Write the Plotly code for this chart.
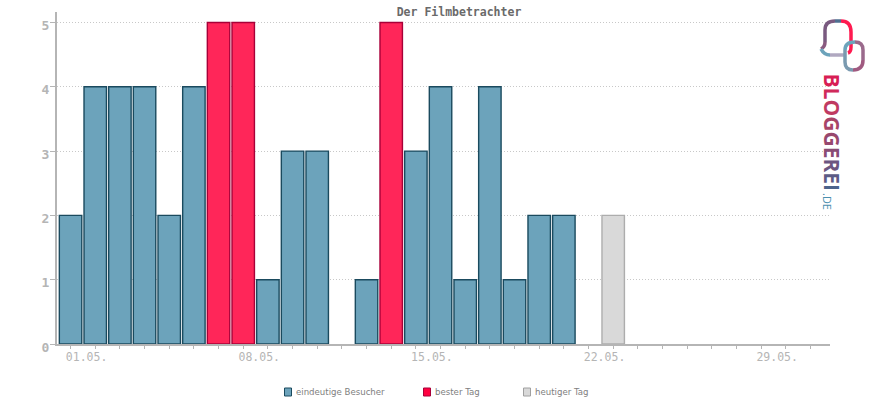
import plotly.graph_objects as go

# Besucher pro Tag im Mai
tage = ["%02d.05." % d for d in range(1, 32)]
besucher = [2, 4, 4, 4, 2, 4, None, None, 1, 3, 3, 0, 1, None, 3, 4, 1, 4, 1, 2, 2, 0, None]
bester_tag = [None, None, None, None, None, None, 5, 5, None, None, None, None, None, 5]
heutiger_tag = [None] * 22 + [2]
y_ticks = [0, 1, 2, 3, 4, 5]
x_label_every = 7

grau = "#b5b5b5"
W, H = 870, 400
links, rechts, oben, unten = 57, 40, 12, 56
font_mono = "DejaVu Sans Mono"


# Pixel im Bild -> paper-Koordinaten (paper = Plotbereich)
def px(x):
    return (x - links) / (W - links - rechts)


def py(y):
    return 1 - (y - oben) / (H - oben - unten)


fig = go.Figure()
fig.add_bar(x=tage[:len(besucher)], y=besucher, name="eindeutige Besucher",
            marker=dict(color="#6ca3bb", line=dict(color="#1a4a5e", width=[1.4 if v else 0 for v in besucher])))
fig.add_bar(x=tage[:len(bester_tag)], y=bester_tag, name="bester Tag",
            marker=dict(color="#ff2659", line=dict(color="#a80038", width=1.4)))
fig.add_bar(x=tage[:len(heutiger_tag)], y=heutiger_tag, name="heutiger Tag",
            marker=dict(color="#d9d9d9", line=dict(color="#adadad", width=1.4)))

# Legende von Hand, weil die Plotly-Legende die Abstaende nicht trifft
legende = [(284.5, "eindeutige Besucher", "#6ca3bb", "#1a4a5e"),
           (423.5, "bester Tag", "#ff0040", "#a80038"),
           (523.5, "heutiger Tag", "#d9d9d9", "#a0a0a0")]
shapes = []
annotations = []
for lx, text, fill, line in legende:
    shapes.append(dict(type="rect", xref="paper", yref="paper", x0=px(lx), x1=px(lx + 7),
                       y0=py(396), y1=py(388), fillcolor=fill, line=dict(color=line, width=1)))
    annotations.append(dict(text=text, xref="paper", yref="paper", x=px(lx + 9), y=py(392),
                            xanchor="left", yanchor="middle", showarrow=False,
                            font=dict(family="DejaVu Sans", size=8.6, color="#808080")))

# Logo rechts oben
logo_farben = ["#d81e55", "#d02a5a", "#c03a62", "#a84468", "#98486e", "#884c74", "#6c5680", "#5c5c86", "#4c648c"]
logo_text = "".join('<span style="color:%s">%s</span>' % (c, b) for c, b in zip(logo_farben, "BLOGGEREI"))
annotations.append(dict(text="<b>" + logo_text + "</b>", xref="paper", yref="paper", x=px(831.5), y=py(132),
                        xanchor="center", yanchor="middle", textangle=90, showarrow=False,
                        font=dict(family="Open Sans", size=21)))
annotations.append(dict(text=".DE", xref="paper", yref="paper", x=px(828), y=py(201),
                        xanchor="center", yanchor="middle", textangle=90, showarrow=False,
                        font=dict(family="Open Sans", size=11, color="#4a8fae")))

logo_linien = [
    ("M 821 49 Q 825 47 825 42", "#8a5a80"),
    ("M 825 42 L 825 30 Q 825 21 835 21", "#7a5a80"),
    ("M 835 21 L 841 21", "#4f6f90"),
    ("M 841 21 Q 851 21 851 32 L 851 47 Q 851 52 848 53", "#ff1a50"),
    ("M 821 49 Q 824 55 830 55", "#6ca3bb"),
    ("M 830 55 L 846 55", "#b0a8c0"),
    ("M 845 50 L 845 62 Q 845 70 853 70", "#7a9ab0"),
    ("M 853 70 Q 863 70 863 60", "#a05a80"),
    ("M 863 60 L 863 50 Q 863 42 855 42", "#9a6a8c"),
    ("M 855 42 Q 845 42 845 50", "#6ca3bb"),
]
for pfad, farbe in logo_linien:
    neu = []
    i = 0
    for t in pfad.split():
        if t in "MLQ":
            neu.append(t)
            i = 0
        else:
            neu.append(str(px(float(t))) if i % 2 == 0 else str(py(float(t))))
            i += 1
    shapes.append(dict(type="path", xref="paper", yref="paper", path=" ".join(neu),
                       line=dict(color=farbe, width=3.5)))

fig.update_layout(
    width=W, height=H,
    margin=dict(l=links, r=rechts, t=oben, b=unten),
    paper_bgcolor="white", plot_bgcolor="white",
    barmode="overlay", bargap=0.09,
    showlegend=False,
    title=dict(text="<b>Der Filmbetrachter</b>", x=459 / W, xanchor="center", y=1 - 12 / H, yanchor="middle",
               font=dict(family=font_mono, size=11.5, color="#6a6a6a")),
    shapes=shapes, annotations=annotations,
)
fig.update_xaxes(
    type="category", categoryorder="array", categoryarray=tage,
    range=[-0.55, 30.79],
    tickvals=tage,
    ticktext=[t if i % x_label_every == 0 else "" for i, t in enumerate(tage)],
    ticks="outside", ticklen=3, tickcolor=grau, tickwidth=1,
    ticklabelshift=16, ticklabelstandoff=-2,
    showline=True, linecolor=grau, linewidth=2, showgrid=False,
    tickangle=0,
    tickfont=dict(family=font_mono, size=11.5, color=grau),
)
fig.update_yaxes(
    range=[0, 5.163], tickvals=y_ticks,
    ticks="outside", ticklen=5, tickcolor=grau, tickwidth=1,
    ticklabelshift=3, ticklabelstandoff=-2,
    showline=True, linecolor=grau, linewidth=2,
    showgrid=True, gridcolor="#c8c8c8", griddash="1px,2px", gridwidth=1,
    zeroline=False,
    tickfont=dict(family=font_mono, size=13, color=grau, weight="bold"),
)

# Seitenrand des Browsers entfernen
fig.write_html("out.html", config=dict(displayModeBar=False),
               post_script="document.body.style.margin='0';")
